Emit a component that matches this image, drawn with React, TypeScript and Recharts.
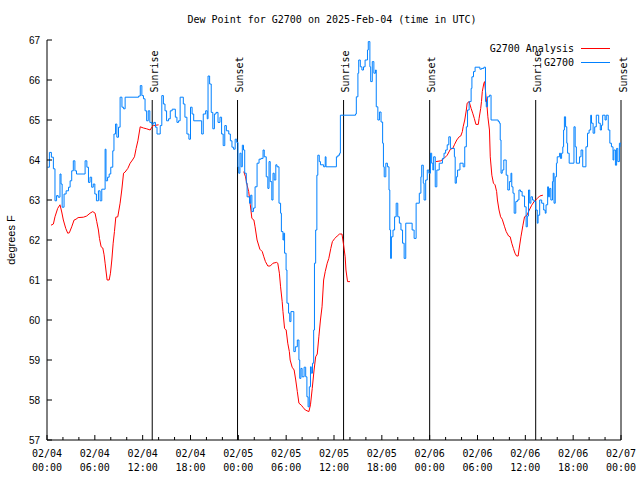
import { Line, LineChart, ReferenceLine, XAxis, YAxis } from "recharts";

/* ── data (hours since 02/04 00:00 UTC, °F) ── */

// G2700 station dew point
const blueHours = [
  0.05, 0.3, 0.55, 0.8, 1.0, 1.2, 1.4, 1.63, 1.76, 1.9,
  2.14, 2.4, 2.7, 2.9, 3.1, 3.3, 3.5, 3.7, 4.78, 5.0,
  5.2, 5.4, 5.6, 5.8, 6.0, 6.2, 6.45, 6.66, 6.87, 7.29,
  7.4, 7.6, 7.8, 8.0, 8.25, 8.4, 8.6, 8.76, 8.97, 9.17,
  9.4, 9.6, 9.8, 11.5, 11.7, 11.9, 12.1, 12.3, 12.5, 12.7,
  12.9, 13.15, 13.4, 13.6, 13.8, 14.2, 14.4, 14.6, 14.8, 15.0,
  15.25, 15.46, 15.7, 16.1, 16.3, 16.5, 16.7, 17.1, 17.3, 17.55,
  17.8, 18.0, 18.2, 18.4, 19.4, 19.6, 19.9, 20.1, 20.2, 20.4,
  20.6, 20.8, 21.0, 21.2, 21.45, 21.7, 21.9, 22.1, 22.3, 22.5,
  22.8, 23.0, 23.2, 23.4, 23.6, 23.8, 23.96, 24.05, 24.2, 24.35,
  24.5, 24.65, 24.8, 25.0, 25.1, 25.4, 25.55, 25.7, 25.9, 26.1,
  26.35, 26.6, 26.85, 27.1, 27.25, 27.5, 27.7, 27.85, 28.0, 28.2,
  28.35, 28.5, 28.7, 28.85, 29.1, 29.3, 29.4, 29.6, 29.7, 29.8,
  29.99, 30.1, 30.3, 30.45, 30.6, 30.96, 31.15, 31.4, 31.6, 31.7,
  31.85, 32.0, 32.25, 32.45, 32.6, 32.75, 32.9, 33.05, 33.15, 33.3,
  33.45, 33.55, 33.7, 33.85, 33.97, 34.15, 34.3, 34.7, 34.9, 35.0,
  36.3, 36.5, 36.7, 36.8, 38.7, 38.8, 39.0, 39.1, 39.3, 39.5,
  39.7, 39.9, 40.2, 40.3, 40.5, 40.6, 40.8, 41.0, 41.2, 41.3,
  41.5, 41.7, 41.9, 42.1, 42.2, 42.3, 42.5, 42.7, 42.9, 43.0,
  43.1, 43.2, 43.4, 43.6, 43.8, 44.0, 44.2, 44.4, 44.6, 44.8,
  45.0, 45.8, 46.05, 46.3, 46.7, 46.9, 47.0, 47.2, 47.3, 47.5,
  47.7, 47.9, 48.1, 48.25, 48.4, 48.5, 48.7, 48.9, 49.2, 49.6,
  49.8, 50.0, 50.2, 50.4, 50.6, 50.9, 51.1, 51.2, 51.35, 51.5,
  51.8, 52.2, 52.4, 52.6, 52.75, 52.95, 53.2, 53.3, 53.5, 53.7,
  54.3, 54.5, 54.8, 55.0, 55.1, 55.25, 55.5, 55.7, 56.6, 56.75,
  56.85, 56.95, 57.1, 57.3, 57.6, 57.8, 58.0, 58.2, 58.3, 58.45,
  58.6, 58.8, 59.0, 59.2, 59.4, 59.6, 59.9, 60.1, 60.25, 60.4,
  60.55, 60.7, 60.9, 61.1, 61.3, 61.5, 61.6, 61.8, 62.05, 62.3,
  62.5, 62.6, 62.8, 62.9, 63.05, 63.2, 63.4, 63.5, 63.6, 63.75,
  63.9, 64.0, 64.3, 64.4, 64.55, 64.7, 64.8, 64.9, 65.05, 65.2,
  65.3, 65.5, 66.1, 66.25, 66.4, 66.8, 66.99, 67.2, 67.6, 67.8,
  68.0, 68.2, 68.3, 68.5, 68.7, 68.9, 69.2, 69.4, 69.55, 69.7,
  70.0, 70.15, 70.4, 70.6, 70.8, 71.0, 71.1, 71.3, 71.45, 71.6,
  71.8, 72.0,
];

const blueDewPoint = [
  63.82, 64.19, 64.07, 63.78, 62.98, 63.11, 63.07, 63.65, 63.4, 62.82,
  63.15, 63.23, 63.32, 63.48, 63.73, 63.98, 63.73, 63.65, 63.98, 63.82,
  63.44, 63.57, 63.32, 63.4, 63.15, 62.98, 63.23, 62.98, 63.27, 64.27,
  63.48, 63.57, 63.65, 63.82, 64.23, 64.65, 64.9, 64.57, 64.82, 65.57,
  65.32, 65.28, 65.57, 65.6, 65.86, 65.61, 65.53, 65.23, 64.98, 65.23,
  64.94, 64.9, 64.94, 64.82, 64.65, 64.86, 65.61, 65.4, 65.23, 64.98,
  65.03, 65.23, 65.27, 65.07, 64.94, 64.98, 65.57, 65.4, 65.07, 64.65,
  64.52, 65.32, 65.15, 64.98, 64.65, 65.15, 65.23, 65.03, 66.1, 65.9,
  65.19, 64.78, 65.15, 65.19, 64.94, 65.07, 64.65, 64.36, 64.86, 64.73,
  64.65, 64.48, 64.32, 64.27, 64.52, 64.44, 63.82, 63.67, 64.17, 63.83,
  64.37, 64.25, 63.67, 63.42, 63.08, 62.92, 63.12, 62.71, 62.8, 63.33,
  63.92, 64.02, 64.04, 64.25, 64.08, 63.58, 63.29, 63.96, 63.46, 63.0,
  63.67, 63.5, 63.88, 63.83, 62.92, 62.67, 62.21, 62.0, 62.17, 61.67,
  61.25, 60.42, 60.17, 59.96, 60.21, 59.21, 59.33, 59.5, 59.0, 58.54,
  58.79, 58.58, 58.82, 58.58, 58.08, 57.83, 58.33, 58.83, 58.67, 58.92,
  59.75, 61.42, 62.25, 63.62, 64.12, 63.96, 63.88, 63.83, 64.08, 63.83,
  64.08, 64.12, 64.17, 65.12, 65.15, 65.58, 66.17, 66.5, 66.33, 66.25,
  66.33, 66.5, 66.75, 66.96, 66.33, 65.96, 66.46, 66.17, 66.25, 65.33,
  65.0, 65.2, 64.95, 64.42, 63.83, 63.58, 63.92, 63.83, 63.25, 62.25,
  61.54, 62.08, 62.25, 62.58, 62.92, 62.58, 62.42, 62.25, 61.92, 61.54,
  62.42, 62.25, 62.04, 62.92, 63.17, 63.58, 63.87, 63.42, 63.0, 63.5,
  63.75, 63.67, 64.17, 63.92, 63.75, 64.08, 63.33, 63.75, 63.92, 64.04,
  64.17, 64.25, 64.38, 64.58, 64.29, 64.29, 64.08, 63.42, 63.58, 63.75,
  63.92, 63.83, 64.33, 64.83, 65.25, 65.46, 65.79, 66.08, 66.21, 66.32,
  66.27, 66.29, 66.32, 65.46, 65.33, 65.58, 65.62, 65.0, 64.96, 64.92,
  64.5, 63.67, 63.75, 64.0, 63.62, 63.25, 63.46, 63.67, 63.33, 63.17,
  62.67, 62.96, 63.0, 63.25, 63.21, 63.1, 62.83, 62.33, 62.6, 63.25,
  62.92, 63.08, 63.0, 62.96, 62.75, 62.42, 62.62, 63.0, 62.92, 62.75,
  62.67, 62.88, 63.33, 63.08, 63.29, 63.0, 63.46, 63.67, 62.92, 63.58,
  63.92, 64.08, 64.17, 64.04, 64.17, 64.33, 64.75, 65.08, 64.83, 64.42,
  64.17, 63.92, 64.83, 64.33, 63.92, 64.08, 64.25, 63.83, 64.33, 64.67,
  64.75, 65.12, 64.92, 64.67, 64.83, 65.12, 64.92, 64.75, 64.87, 65.12,
  65.0, 65.12, 64.75, 64.42, 64.33, 64.0, 64.25, 63.87, 64.29, 63.96,
  64.42, 64.33,
];

// G2700 Analysis (null = gap in the analysis)
const redHours = [
  0.5, 0.8, 1.0, 1.34, 1.63, 1.85, 2.05, 2.35, 2.6, 2.8,
  3.1, 3.4, 3.64, 3.9, 4.57, 4.98, 5.4, 5.74, 6.03, 6.24,
  6.45, 6.58, 6.79, 7.0, 7.16, 7.29, 7.42, 7.54, 7.8, 7.96,
  8.13, 8.3, 8.46, 8.63, 8.88, 9.17, 9.38, 9.6, 9.8, 10.14,
  10.43, 10.72, 10.97, 11.18, 11.4, 11.5, 11.69, 12.1, 12.5, 12.94,
  13.15, 13.36, 14.0,
  19.0,
  24.68, 24.9, 25.1, 25.3, 25.5, 25.7, 25.95, 26.1, 26.35, 26.7,
  27.0, 27.2, 27.4, 27.7, 28.0, 28.35, 28.8, 28.95, 29.15, 29.3,
  29.5, 29.6, 29.8, 30.0, 30.2, 30.4, 30.5, 30.75, 31.0, 31.2,
  31.4, 31.6, 31.9, 32.1, 32.4, 32.85, 33.05, 33.27, 33.5, 33.7,
  33.9, 34.1, 34.3, 34.5, 34.7, 34.9, 35.15, 35.35, 35.6, 35.8,
  36.1, 36.4, 36.7, 37.0, 37.2, 37.4, 37.5, 37.7, 38.0,
  43.0,
  48.8, 49.4, 49.8, 50.2, 50.6, 50.9, 51.1, 51.4, 51.7, 51.9,
  52.1, 52.2, 52.4, 52.6, 52.7, 52.95, 53.2, 53.4, 53.6, 53.8,
  54.1, 54.2, 54.4, 54.5, 54.6, 54.8, 54.9, 55.05, 55.2, 55.3,
  55.5, 55.6, 55.8, 56.0, 56.2, 56.4, 56.5, 56.7, 56.9, 57.1,
  57.4, 57.6, 57.9, 58.1, 58.3, 58.5, 58.7, 58.9, 59.1, 59.2,
  59.45, 59.7, 59.9, 60.2, 60.5, 60.8, 61.1, 61.5, 61.8, 62.2,
];

const redDewPoint: (number | null)[] = [
  62.37, 62.4, 62.58, 62.79, 62.88, 62.7, 62.5, 62.29, 62.17, 62.18,
  62.33, 62.5, 62.52, 62.56, 62.57, 62.6, 62.67, 62.71, 62.67, 62.46,
  62.25, 62.04, 61.83, 61.8, 61.63, 61.42, 61.2, 61.0, 61.0, 61.17,
  61.5, 61.92, 62.21, 62.57, 62.58, 62.92, 63.25, 63.67, 63.7, 63.79,
  63.92, 64.0, 64.08, 64.29, 64.48, 64.6, 64.83, 64.8, 64.78, 64.75,
  64.82, 64.86, 64.88,
  null,
  63.71, 63.58, 63.37, 63.21, 62.88, 62.54, 62.5, 62.33, 62.0, 61.77,
  61.71, 61.58, 61.46, 61.35, 61.35, 61.42, 61.44, 61.42, 61.17, 60.83,
  60.46, 60.21, 59.79, 59.75, 59.42, 59.21, 59.0, 58.82, 58.75, 58.5,
  58.21, 57.92, 57.87, 57.82, 57.75, 57.71, 57.88, 58.29, 58.75, 59.08,
  59.15, 59.58, 60.0, 60.33, 61.0, 61.21, 61.42, 61.54, 61.79, 61.96,
  62.04, 62.1, 62.15, 62.15, 61.88, 61.58, 61.25, 60.96, 60.96,
  null,
  63.96, 63.98, 64.04, 64.12, 64.27, 64.29, 64.38, 64.5, 64.58, 64.6,
  64.71, 64.83, 65.0, 65.25, 65.42, 65.46, 65.29, 65.17, 65.04, 64.89,
  64.89, 65.04, 65.29, 65.46, 65.71, 65.92, 65.96, 65.62, 65.33, 65.08,
  64.75, 64.08, 63.62, 63.42, 63.38, 63.21, 63.0, 62.75, 62.58, 62.52,
  62.33, 62.21, 62.1, 62.08, 61.92, 61.79, 61.67, 61.6, 61.6, 61.75,
  62.08, 62.37, 62.58, 62.62, 62.75, 62.87, 62.96, 63.04, 63.1, 63.12,
];

// sun events (hours) and their labels
const sunHours = [13.2, 23.9, 37.2, 48.0, 61.3, 72.0];
const sunLabels = ["Sunrise", "Sunset", "Sunrise", "Sunset", "Sunrise", "Sunset"];

// axis ticks
const hourTicks = [
  0, 2, 4, 6, 8, 10, 12, 14, 16, 18, 20, 22, 24, 26, 28, 30, 32, 34, 36,
  38, 40, 42, 44, 46, 48, 50, 52, 54, 56, 58, 60, 62, 64, 66, 68, 70, 72,
];
const majorHours = [0, 6, 12, 18, 24, 30, 36, 42, 48, 54, 60, 66, 72];
const dateLabels = [
  "02/04", "02/04", "02/04", "02/04", "02/05", "02/05", "02/05",
  "02/05", "02/06", "02/06", "02/06", "02/06", "02/07",
];
const timeLabels = [
  "00:00", "06:00", "12:00", "18:00", "00:00", "06:00", "12:00",
  "18:00", "00:00", "06:00", "12:00", "18:00", "00:00",
];
const degreeTicks = [57, 58, 59, 60, 61, 62, 63, 64, 65, 66, 67];

const MONO = "'DejaVu Sans Mono', monospace";
const SANS = "'Liberation Sans', Arial, sans-serif";
const RED = "#ff0000";
const BLUE = "#0080ff";

const blueData = blueHours.map((h, i) => ({ h, v: blueDewPoint[i] }));
const redData = redHours.map((h, i) => ({ h, v: redDewPoint[i] }));

/* ── tick renderers (gnuplot-style inward ticks) ── */

function BottomTick({ x, y, payload }: any) {
  const i = majorHours.indexOf(payload.value);
  const major = i >= 0;
  return (
    <g>
      <line x1={x} x2={x} y1={y} y2={y - (major ? 5 : 3)} stroke="#000" />
      {major && (
        <text x={x} y={y + 17} textAnchor="middle" fontFamily={MONO} fontSize={10} fill="#000">
          {dateLabels[i]}
        </text>
      )}
      {major && (
        <text x={x} y={y + 31} textAnchor="middle" fontFamily={MONO} fontSize={10} fill="#000">
          {timeLabels[i]}
        </text>
      )}
    </g>
  );
}

function TopTick({ x, y, payload }: any) {
  const major = majorHours.includes(payload.value);
  return <line x1={x} x2={x} y1={y} y2={y + (major ? 5 : 3)} stroke="#000" />;
}

function LeftTick({ x, y, payload }: any) {
  return (
    <g>
      <line x1={x} x2={x + 5} y1={y} y2={y} stroke="#000" />
      <text x={x - 7} y={y} dy="0.35em" textAnchor="end" fontFamily={SANS} fontSize={10} fill="#000">
        {payload.value}
      </text>
    </g>
  );
}

function RightTick({ x, y }: any) {
  return <line x1={x} x2={x - 5} y1={y} y2={y} stroke="#000" />;
}

function SunLabel(text: string) {
  return ({ viewBox }: any) => (
    <text
      transform={`translate(${viewBox.x + 5.5},${viewBox.y - 7.5}) rotate(-90)`}
      fontFamily={MONO}
      fontSize={10}
      fill="#000"
    >
      {text}
    </text>
  );
}

export default function App() {
  return (
    <div style={{ position: "absolute", left: 0, top: 0, width: 640, height: 480, background: "#fff" }}>
      <LineChart width={640} height={480} margin={{ top: 40, right: 19, bottom: 0, left: 7 }}>
        <XAxis
          xAxisId="b"
          type="number"
          dataKey="h"
          domain={[0, 72]}
          allowDataOverflow
          ticks={hourTicks}
          interval={0}
          tickSize={0}
          tickMargin={0}
          height={40}
          axisLine={{ stroke: "#000" }}
          tick={(p: any) => <BottomTick {...p} />}
        />
        <XAxis
          xAxisId="t"
          orientation="top"
          type="number"
          dataKey="h"
          domain={[0, 72]}
          allowDataOverflow
          ticks={hourTicks}
          interval={0}
          tickSize={0}
          tickMargin={0}
          height={0}
          axisLine={{ stroke: "#000" }}
          tick={(p: any) => <TopTick {...p} />}
        />
        <YAxis
          yAxisId="l"
          type="number"
          domain={[57, 67]}
          allowDataOverflow
          ticks={degreeTicks}
          interval={0}
          tickSize={0}
          tickMargin={0}
          width={40}
          axisLine={{ stroke: "#000" }}
          tick={(p: any) => <LeftTick {...p} />}
          label={({ viewBox }: any) => (
            <text
              transform={`translate(${viewBox.x + 4},${viewBox.y + viewBox.height / 2}) rotate(-90)`}
              dy="0.35em"
              textAnchor="middle"
              fontFamily={SANS}
              fontSize={11}
              fill="#000"
            >
              degrees F
            </text>
          )}
        />
        <YAxis
          yAxisId="r"
          orientation="right"
          type="number"
          domain={[57, 67]}
          allowDataOverflow
          ticks={degreeTicks}
          interval={0}
          tickSize={0}
          tickMargin={0}
          width={0}
          axisLine={{ stroke: "#000" }}
          tick={(p: any) => <RightTick {...p} />}
        />

        {sunHours.map((h, i) => (
          <ReferenceLine
            key={`sun-${i}`}
            xAxisId="b"
            yAxisId="l"
            segment={[{ x: h, y: 57 }, { x: h, y: 65.5 }]}
            stroke="#000"
            strokeWidth={1}
            label={SunLabel(sunLabels[i])}
          />
        ))}

        <Line
          xAxisId="b"
          yAxisId="l"
          data={redData}
          dataKey="v"
          type="linear"
          stroke={RED}
          strokeWidth={1}
          dot={false}
          activeDot={false}
          isAnimationActive={false}
        />
        <Line
          xAxisId="b"
          yAxisId="l"
          data={blueData}
          dataKey="v"
          type="stepAfter"
          stroke={BLUE}
          strokeWidth={1}
          dot={false}
          activeDot={false}
          isAnimationActive={false}
        />
      </LineChart>

      {/* title and key */}
      <svg width={640} height={480} style={{ position: "absolute", left: 0, top: 0, pointerEvents: "none" }}>
        <text x={332} y={23} textAnchor="middle" fontFamily={MONO} fontSize={10} fill="#000">
          Dew Point for G2700 on 2025-Feb-04 (time in UTC)
        </text>
        <text x={574} y={52} textAnchor="end" fontFamily={MONO} fontSize={10} fill="#000">
          G2700 Analysis
        </text>
        <line x1={581} x2={610} y1={48.5} y2={48.5} stroke={RED} />
        <text x={574} y={66} textAnchor="end" fontFamily={MONO} fontSize={10} fill="#000">
          G2700
        </text>
        <line x1={581} x2={610} y1={62.5} y2={62.5} stroke={BLUE} />
      </svg>
    </div>
  );
}
